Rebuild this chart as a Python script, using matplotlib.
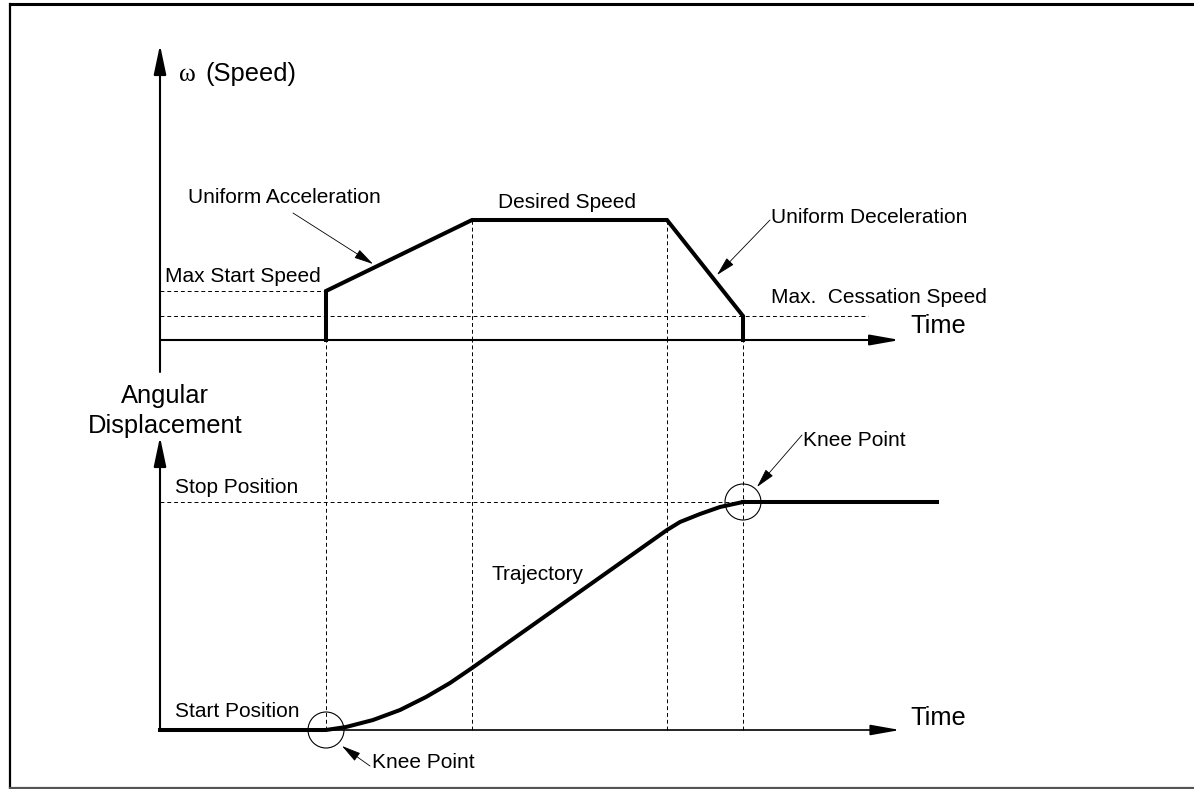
"""Stepper motor speed profile / angular displacement diagram -> out.png"""
import matplotlib
matplotlib.use("Agg")
import matplotlib.pyplot as plt  # noqa: E402
from matplotlib.lines import Line2D  # noqa: E402
from matplotlib.patches import Circle  # noqa: E402

W, H = 1194, 789
INK, FRAME = "black", "#555555"
BIG, SMALL = 18.4, 15
plt.rcParams["font.family"] = ["Liberation Sans", "DejaVu Sans"]

# diagram units (1 unit ~ 1 px from the time origin)
PHASE_T = [166, 312, 507, 583]          # start, end accel, start decel, stop
SPEED_T = [166, 166, 312, 507, 583, 583]
SPEED_V = [0, 49, 120, 120, 24, 0]
START_SPEED, CESSATION_SPEED = 49, 24
CESSATION_END = 708
TRAJ_T = [0, 166, 186, 213, 240, 266, 290, 312, 507, 520, 540, 560, 583]
TRAJ_P = [0, 0, 3, 10, 20, 33, 47, 62, 200, 208, 216, 223, 228]
HOLD_T = [583, 777]
STOP_P = 228
TIME_END = 740
PANEL_GAP = 390                          # bottom time axis -> top time axis


def arrow(ax, tail, tip, lw, hl, hw):
    ax.annotate("", xy=tip, xytext=tail, annotation_clip=False,
                arrowprops=dict(arrowstyle=f"-|>,head_length={hl},head_width={hw}",
                                lw=lw, color=INK, shrinkA=0, shrinkB=0,
                                mutation_scale=10))


def main():
    fig = plt.figure(figsize=(W / 100, H / 100), dpi=100)
    ax_v = fig.add_axes([0, (H - 340) / H, 1, 300 / H])
    ax_p = fig.add_axes([0, (H - 730) / H, 1, 300 / H])
    for ax in (ax_v, ax_p):
        ax.set_xlim(-160, W - 160)
        ax.set_ylim(0, 300)
        ax.axis("off")
    dot = dict(color=INK, lw=0.7, ls=(0, (4, 3)), clip_on=False, zorder=1)

    # ---- speed panel
    ax_v.plot([0, PHASE_T[0]], [START_SPEED] * 2, **dot)
    ax_v.plot([0, CESSATION_END], [CESSATION_SPEED] * 2, **dot)
    for t, v in zip(SPEED_T[2:4], SPEED_V[2:4]):
        ax_v.plot([t, t], [0, v], **dot)
    ax_v.plot(SPEED_T, SPEED_V, color=INK, lw=2.9, solid_joinstyle="miter",
              clip_on=False, zorder=3)
    arrow(ax_v, (0, -32), (0, 295), 1.5, 1.8, 0.38)
    arrow(ax_v, (0, 0), (TIME_END, 0), 1.5, 1.8, 0.32)
    ax_v.text(19, 259, "ω", family="Liberation Serif", fontsize=BIG)
    ax_v.text(45, 259, "(Speed)", fontsize=BIG)
    ax_v.text(750, 7, "Time", fontsize=BIG)
    ax_v.text(28, 137, "Uniform Acceleration", fontsize=SMALL)
    ax_v.text(338, 132, "Desired Speed", fontsize=SMALL)
    ax_v.text(611, 117, "Uniform Deceleration", fontsize=SMALL)
    ax_v.text(5, 58, "Max Start Speed", fontsize=SMALL)
    ax_v.text(611, 37, "Max.  Cessation Speed", fontsize=SMALL)
    arrow(ax_v, (133, 127), (213, 76), 0.6, 1.2, 0.3)
    arrow(ax_v, (610, 120), (557, 65), 0.6, 1.2, 0.3)

    # ---- angular displacement panel
    for t in PHASE_T:
        ax_p.plot([t, t], [0, PANEL_GAP], **dot)
    ax_p.plot([0, PHASE_T[-1]], [STOP_P] * 2, **dot)
    arrow(ax_p, (0, 0), (TIME_END, 0), 1.2, 1.8, 0.32)
    arrow(ax_p, (0, 0), (0, 293), 1.5, 1.8, 0.38)
    ax_p.plot(TRAJ_T, TRAJ_P, color=INK, lw=2.9, clip_on=False, zorder=3)
    ax_p.plot(HOLD_T, [STOP_P] * 2, color=INK, lw=2.9, clip_on=False, zorder=3)
    for c in [(PHASE_T[0], 0), (PHASE_T[-1], STOP_P)]:
        ax_p.add_patch(Circle(c, 18, fill=False, lw=0.8, color=INK,
                              clip_on=False, zorder=4))
    ax_p.text(5, 327, "Angular", fontsize=BIG, ha="center")
    ax_p.text(5, 297, "Displacement", fontsize=BIG, ha="center")
    ax_p.text(15, 237, "Stop Position", fontsize=SMALL)
    ax_p.text(15, 13, "Start Position", fontsize=SMALL)
    ax_p.text(331, 150, "Trajectory", fontsize=SMALL)
    ax_p.text(750, 5, "Time", fontsize=BIG)
    ax_p.text(643, 284, "Knee Point", fontsize=SMALL)
    ax_p.text(212, -38, "Knee Point", fontsize=SMALL)
    arrow(ax_p, (642, 295), (597, 243), 0.6, 1.2, 0.3)
    arrow(ax_p, (210, -36), (182, -16), 0.6, 1.2, 0.3)

    # ---- outer frame
    fig.add_artist(Line2D([10 / W, 10 / W], [1 - 4 / H, 1 - 788 / H],
                          color=INK, lw=1.6))
    fig.add_artist(Line2D([10 / W, 1], [1 - 4 / H] * 2, color=INK, lw=2.2))
    fig.add_artist(Line2D([10 / W, 1], [1 - 788 / H] * 2, color=FRAME, lw=1.6))

    fig.savefig("out.png", dpi=100, facecolor="white")


if __name__ == "__main__":
    main()
